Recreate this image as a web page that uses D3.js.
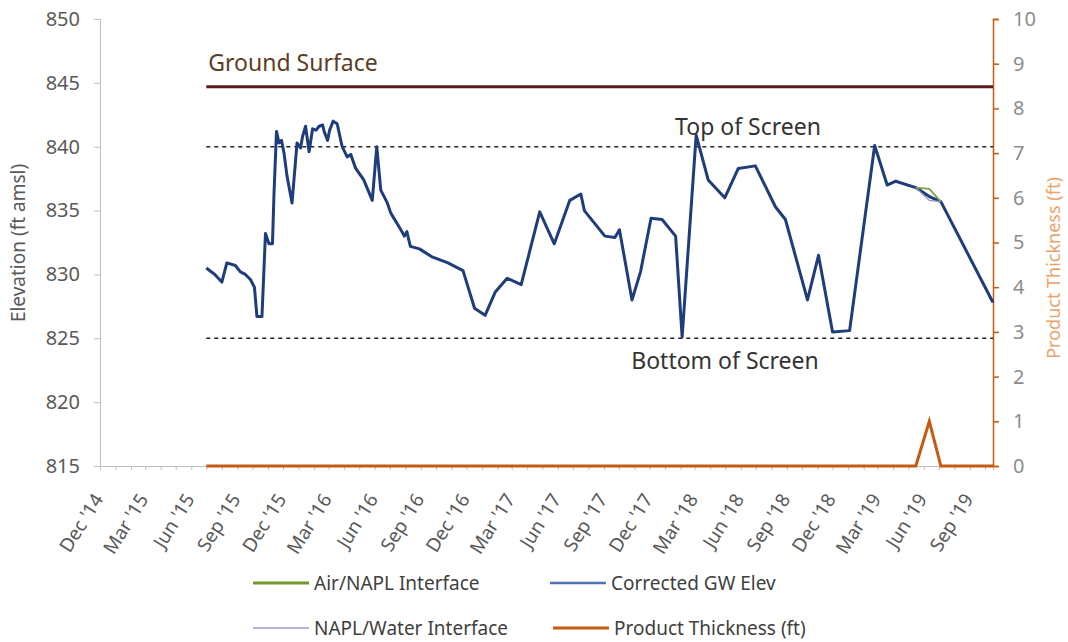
<!DOCTYPE html>
<html>
<head>
<meta charset="utf-8">
<script src="https://cdn.jsdelivr.net/npm/d3@7"></script>
<style>
body { margin: 0; background: #fff; }
svg { display: block; }
text { font-family: "Noto Sans", sans-serif; }
</style>
</head>
<body>
<div id="chart"></div>
<script>
// measurement dates and corrected groundwater elevation (ft amsl)
var dates = ["2015-07-01","2015-07-18","2015-08-01","2015-08-11","2015-08-28","2015-09-07","2015-09-17","2015-09-27",
  "2015-10-05","2015-10-10","2015-10-20","2015-10-27","2015-11-03","2015-11-10","2015-11-13","2015-11-18",
  "2015-11-23","2015-11-28","2015-12-03","2015-12-09","2015-12-19","2015-12-29","2016-01-05","2016-01-09",
  "2016-01-15","2016-01-22","2016-01-29","2016-02-05","2016-02-11","2016-02-18","2016-02-21","2016-02-28",
  "2016-03-03","2016-03-10","2016-03-18","2016-03-28","2016-04-07","2016-04-14","2016-04-24","2016-05-10",
  "2016-05-27","2016-06-05","2016-06-13","2016-06-26","2016-07-03","2016-07-23","2016-07-30","2016-08-04",
  "2016-08-11","2016-08-29","2016-09-22","2016-10-25","2016-11-24","2016-12-17","2017-01-07","2017-01-27",
  "2017-02-20","2017-03-20","2017-04-26","2017-05-25","2017-06-25","2017-07-17","2017-07-24","2017-09-03",
  "2017-09-23","2017-10-02","2017-10-27","2017-11-13","2017-12-04","2017-12-26","2018-01-22","2018-02-04",
  "2018-03-04","2018-03-28","2018-04-30","2018-05-27","2018-06-30","2018-08-09","2018-08-29","2018-10-12",
  "2018-11-03","2018-12-01","2019-01-04","2019-02-23","2019-03-20","2019-04-06","2019-05-16","2019-06-12",
  "2019-07-05","2019-10-17"];
var gwElev = [830.5,830.0,829.4,830.9,830.7,830.2,830.0,829.6,
  829.0,826.7,826.7,833.2,832.4,832.4,836.3,841.2,
  840.3,840.5,839.5,837.7,835.6,840.3,839.9,840.8,
  841.6,839.6,841.4,841.3,841.6,841.7,841.2,840.5,
  841.3,842.0,841.8,840.0,839.2,839.4,838.3,837.4,
  835.8,840.0,836.6,835.6,834.8,833.5,833.0,833.35,
  832.2,832.0,831.4,830.9,830.3,827.35,826.8,828.6,
  829.7,829.2,834.9,832.4,835.8,836.3,835.0,833.0,
  832.9,833.5,828.0,830.2,834.4,834.3,833.0,825.1,
  840.9,837.4,836.0,838.3,838.5,835.3,834.3,828.0,
  831.5,825.5,825.6,840.1,837.0,837.3,836.8,836.1,
  835.7,827.8];
// product thickness (ft), same dates
var productThickness = dates.map(function (d) { return d === "2019-06-12" ? 1.0 : 0; });

// interfaces only differ from GW while product is present
var naplDates = ["2019-05-16","2019-06-12","2019-07-05"];
var airNapl = [836.8, 836.7, 835.7];
var naplWater = [836.8, 835.8, 835.7];

var groundSurface = 844.7;
var topOfScreen = 840;
var bottomOfScreen = 825;

var elevTicks = [815, 820, 825, 830, 835, 840, 845, 850];
var thickTicks = [0, 1, 2, 3, 4, 5, 6, 7, 8, 9, 10];

var W = 1068, H = 642;
var margin = {top: 19, right: 75, bottom: 176, left: 100};

var parse = d3.timeParse("%Y-%m-%d");
var gwData = dates.map((d, i) => ({date: parse(d), v: gwElev[i]}));
var ptData = dates.map((d, i) => ({date: parse(d), v: productThickness[i]}));
var airData = naplDates.map((d, i) => ({date: parse(d), v: airNapl[i]}));
var nwData = naplDates.map((d, i) => ({date: parse(d), v: naplWater[i]}));

var x = d3.scaleTime()
  .domain([new Date(2014, 11, 1), gwData[gwData.length - 1].date])
  .range([margin.left, W - margin.right]);
var y = d3.scaleLinear().domain([815, 850]).range([H - margin.bottom, margin.top]);
var y2 = d3.scaleLinear().domain([0, 10]).range([H - margin.bottom, margin.top]);

var svg = d3.select("#chart").append("svg")
  .attr("width", W).attr("height", H)
  .attr("viewBox", [0, 0, W, H]);

// left axis
var yAxis = svg.append("g")
  .attr("transform", `translate(${margin.left},0)`)
  .call(d3.axisLeft(y).tickValues(elevTicks).tickSize(6).tickPadding(14));
yAxis.selectAll("path,line").attr("stroke", "#bfbfbf");
yAxis.selectAll("text").attr("font-size", 20).attr("fill", "#595959");

// x axis, monthly ticks, quarterly labels
var months = d3.timeMonths(new Date(2014, 11, 1), x.domain()[1]);
var xAxis = svg.append("g")
  .attr("transform", `translate(0,${H - margin.bottom})`)
  .call(d3.axisBottom(x).tickValues(months).tickSize(4).tickFormat(""));
xAxis.selectAll("path,line").attr("stroke", "#bfbfbf");

var quarters = months.filter((d, i) => i % 3 === 0);
svg.append("g").selectAll("text")
  .data(quarters)
  .join("text")
  .attr("transform", d => `translate(${x(d) + 4},${H - margin.bottom + 33}) rotate(-58)`)
  .attr("text-anchor", "end")
  .attr("font-size", 19)
  .attr("fill", "#595959")
  .text(d3.timeFormat("%b '%y"));

// right axis
var y2Axis = svg.append("g")
  .attr("transform", `translate(${W - margin.right},0)`)
  .call(d3.axisRight(y2).tickValues(thickTicks).tickSize(6).tickPadding(14));
y2Axis.selectAll("path,line").attr("stroke", "#c55a11").attr("stroke-width", 1.5);
y2Axis.selectAll("text").attr("font-size", 20).attr("fill", "#8c8c8c");

// axis titles
svg.append("text")
  .attr("transform", "translate(25,243) rotate(-90)")
  .attr("text-anchor", "middle")
  .attr("font-size", 19)
  .attr("fill", "#595959")
  .text("Elevation (ft amsl)");
svg.append("text")
  .attr("transform", `translate(1054,268) rotate(-90)`)
  .attr("text-anchor", "middle")
  .attr("dy", "0.35em")
  .attr("font-size", 18)
  .attr("fill", "#e8a36a")
  .text("Product Thickness (ft)");

var x0 = x(gwData[0].date), x1 = x(gwData[gwData.length - 1].date);

// reference lines
svg.append("line")
  .attr("x1", x0).attr("x2", x1)
  .attr("y1", y(groundSurface)).attr("y2", y(groundSurface))
  .attr("stroke", "#5a1c1c").attr("stroke-width", 3);
[topOfScreen, bottomOfScreen].forEach(function (v) {
  svg.append("line")
    .attr("x1", x0).attr("x2", x1)
    .attr("y1", y(v)).attr("y2", y(v))
    .attr("stroke", "#222").attr("stroke-width", 1.4)
    .attr("stroke-dasharray", "4,4");
});

svg.append("text")
  .attr("x", x0 + 2).attr("y", y(groundSurface) - 16)
  .attr("font-size", 23).attr("fill", "#5c3d24")
  .text("Ground Surface");
svg.append("text")
  .attr("x", 748).attr("y", y(topOfScreen) - 12)
  .attr("text-anchor", "middle")
  .attr("font-size", 23).attr("fill", "#333")
  .text("Top of Screen");
svg.append("text")
  .attr("x", 725).attr("y", y(bottomOfScreen) + 31)
  .attr("text-anchor", "middle")
  .attr("font-size", 23).attr("fill", "#333")
  .text("Bottom of Screen");

var line = d3.line().x(d => x(d.date)).y(d => y(d.v));
var line2 = d3.line().x(d => x(d.date)).y(d => y2(d.v));

// product thickness
svg.append("path")
  .datum(ptData)
  .attr("d", line2)
  .attr("fill", "none")
  .attr("stroke", "#c55a11")
  .attr("stroke-width", 3);

// corrected GW elevation
svg.append("path")
  .datum(gwData)
  .attr("d", line)
  .attr("fill", "none")
  .attr("stroke", "#1f3d7a")
  .attr("stroke-width", 3)
  .attr("stroke-linejoin", "round");

svg.append("path")
  .datum(airData)
  .attr("d", line)
  .attr("fill", "none")
  .attr("stroke", "#7aa23f")
  .attr("stroke-width", 1.8);
svg.append("path")
  .datum(nwData)
  .attr("d", line)
  .attr("fill", "none")
  .attr("stroke", "#8f8fcf")
  .attr("stroke-width", 1.2);

// legend
var legend = [
  {name: "Air/NAPL Interface", color: "#6f9a2b", w: 3, x: 253, y: 583},
  {name: "Corrected GW Elev", color: "#4f74b3", w: 2.5, x: 550, y: 583},
  {name: "NAPL/Water Interface", color: "#9a9ad0", w: 1.3, x: 253, y: 628},
  {name: "Product Thickness (ft)", color: "#c55a11", w: 3, x: 553, y: 628}
];
var lg = svg.append("g").selectAll("g").data(legend).join("g")
  .attr("transform", d => `translate(${d.x},${d.y})`);
lg.append("line")
  .attr("x1", 0).attr("x2", 56)
  .attr("stroke", d => d.color)
  .attr("stroke-width", d => d.w);
lg.append("text")
  .attr("x", 61).attr("dy", "0.35em")
  .attr("font-size", 19).attr("fill", "#404040")
  .text(d => d.name);
</script>
</body>
</html>
